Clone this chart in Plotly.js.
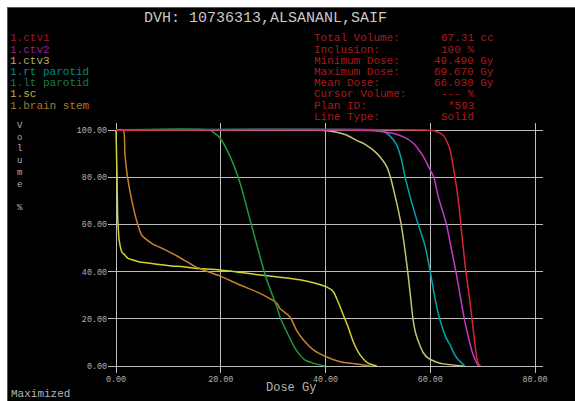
<!DOCTYPE html>
<html>
<head>
<meta charset="utf-8">
<script src="https://cdn.plot.ly/plotly-3.0.1.min.js"></script>
<style>
  html, body { margin:0; padding:0; background:#ffffff; width:575px; height:401px; overflow:hidden; }
  #frame { position:absolute; left:7px; top:7px; width:568px; height:394px; box-sizing:border-box;
           border-left:1px solid #d42020; border-top:1px solid #d42020; background:#000; }
  #chart { position:absolute; left:0; top:0; width:567px; height:393px; }
</style>
</head>
<body>
<div id="frame"><div id="chart"></div></div>
<script>
// ---- data (dose in Gy, volume in %) ----
const structureNames = ["1.ctv1","1.ctv2","1.ctv3","1.rt parotid","1.lt parotid","1.sc","1.brain stem"];

const ctv1Dose = [0,59,61,62.5,63.3,63.8,64.5,65.0,65.5,66.0,66.4,66.8,67.5,68.1,68.5,68.9,69.3,69.67];
const ctv1Vol  = [100,100,99.5,97.8,94.5,91.5,83,76,67.5,56.2,48,40,28.7,17.4,10,3.3,0.6,0];

const ctv2Dose = [0,45,50,53,55,56.8,58,58.7,60,60.7,61.5,62.3,63.1,64.0,64.9,65.7,66.5,67.3,68.0,68.7,69.2];
const ctv2Vol  = [100,100,99.5,98.5,97,94.4,91,88.7,83,80,72,66,60,50,40,30,20,12,6,2,0];

const ctv3Dose = [0,38,41,44,46,47.2,48.5,49.8,50.8,51.7,52.4,53.6,54.4,55.0,55.3,55.7,56.2,56.7,57.2,58.0,58.7,59.6,61,62.5,66.3];
const ctv3Vol  = [100,100,99.5,97.9,95.5,94.4,92.5,90.1,87.5,84.5,80,69,60.5,52,47,40,30,20,14,8.9,5.5,3.3,1.8,0.9,0];

const rtParotidDose = [0,50,51,52.3,53.6,54.5,55.2,56.5,57.7,59.0,60.0,60.9,61.8,63.0,63.8,64.6,65.4,66.6];
const rtParotidVol  = [100,100,99.5,97.5,93.6,87.5,80,69,60,51,40,28.7,20,12,8.9,5,2.5,0];

const ltParotidDose = [0,17.8,18.9,19.9,21.8,23.7,25.6,27.5,28.8,30.7,31.3,32.6,34.2,35.2,36.1,38.3,39.9];
const ltParotidVol  = [100,100,98.6,96.5,88.7,77.4,61.9,46.3,36.4,25.1,20.9,14.5,7.5,4.5,2.5,0.8,0];

const scDose = [0,0.1,0.2,0.3,0.45,0.6,1.1,1.7,2.3,3.3,4.3,6.5,7.4,10.6,12.9,15.1,19.9,27.5,31.3,35.1,37.7,40.1,41.5,42.4,43.4,44.4,45.3,46.6,48.2,49.8];
const scVol  = [100,90,80,65,57.6,53.4,48.4,47,45.6,44.9,44.2,43.5,43.2,42.4,42.1,41.4,40.7,38.6,37.6,36.5,35.3,33.6,31.5,27.2,21.6,16,10.3,4.7,1.1,0];

const brainStemDose = [0,1.4,1.7,2.2,3.0,3.9,4.9,6.8,9.4,11.9,13.5,15.1,16.7,19.9,23.7,27.5,30.7,31.3,33.2,34.5,35.8,37.7,40.1,42.8,46.0,48.5];
const brainStemVol  = [100,100,90,80,70.3,61.9,55.5,52,49.2,46.3,44.2,42.1,40.7,38.1,34.3,30.8,26.6,24.4,20.9,15,11,6.8,3.9,1.8,0.8,0];

const xTicks = [0,20,40,60,80];
const yTicks = [0,20,40,60,80,100];

const infoLabels = ["Total Volume:","Inclusion:","Minimum Dose:","Maximum Dose:","Mean Dose:","Cursor Volume:","Plan ID:","Line Type:"];
const infoValues = ["67.31 cc","100 %","49.490 Gy","69.670 Gy","66.030 Gy","--- %","*593","Solid"];

const titleText = "DVH: 10736313,ALSANANL,SAIF";

// ---- styles ----
const lineColors  = ["#d42630","#c23cc4","#c8c274","#00a4ac","#1e9a3c","#d2d232","#c4822e"];
const labelColors = ["#a81420","#9a1ea8","#b4b06a","#008a8e","#1a7a42","#b8b444","#a87a2a"];
const MONO = "Liberation Mono, DejaVu Sans Mono, monospace";

const series = [
  [ctv1Dose, ctv1Vol], [ctv2Dose, ctv2Vol], [ctv3Dose, ctv3Vol],
  [rtParotidDose, rtParotidVol], [ltParotidDose, ltParotidVol],
  [scDose, scVol], [brainStemDose, brainStemVol]
];
// draw order: ctv1 last so its plateau sits on top
const order = [5,6,4,3,2,1,0];
const traces = order.map(i => ({
  x: series[i][0], y: series[i][1], type: "scatter", mode: "lines",
  name: structureNames[i], line: {color: lineColors[i], width: 1.5, shape: "spline", smoothing: 0.6},
  hoverinfo: "skip"
}));

// page-pixel -> paper helpers (plot area on page: x 108..543, y 123..373)
const PX0 = 108, PX1 = 543, PY0 = 123, PY1 = 373;
const ax = p => (p - PX0) / (PX1 - PX0);
const ay = p => (PY1 - p) / (PY1 - PY0);

const annotations = [];
annotations.push({text: titleText, xref:"paper", yref:"paper", x: ax(265), y: ay(18),
  xanchor:"center", yanchor:"middle", showarrow:false, font:{family:MONO, size:15, color:"#c8c8c8"}});

const row0 = 38.5, rowStep = 11.17;
structureNames.forEach((n, i) => annotations.push({text: n, xref:"paper", yref:"paper",
  x: ax(8), y: ay(row0 + i*rowStep), xanchor:"left", yanchor:"middle", showarrow:false,
  font:{family:MONO, size:11, color:labelColors[i]}}));

const valueEnds = [496,476,496,496,496,476,476,476];
infoLabels.forEach((t, i) => {
  annotations.push({text: t, xref:"paper", yref:"paper", x: ax(312), y: ay(row0 + i*rowStep),
    xanchor:"left", yanchor:"middle", showarrow:false, font:{family:MONO, size:11, color:"#a81c1c"}});
  annotations.push({text: infoValues[i], xref:"paper", yref:"paper", x: ax(valueEnds[i]), y: ay(row0 + i*rowStep),
    xanchor:"right", yanchor:"middle", showarrow:false, font:{family:MONO, size:11, color:"#a81c1c"}});
});

annotations.push({text: "V<br>o<br>l<br>u<br>m<br>e<br> <br>%", xref:"paper", yref:"paper",
  x: ax(20), y: ay(167), xanchor:"center", yanchor:"middle", showarrow:false, align:"center",
  font:{family:MONO, size:9, color:"#b4b4b4"}});
annotations.push({text: "Dose Gy", xref:"paper", yref:"paper", x: ax(291), y: ay(388),
  xanchor:"center", yanchor:"middle", showarrow:false, font:{family:MONO, size:12, color:"#b4b4b4"}});
annotations.push({text: "Maximized", xref:"paper", yref:"paper", x: ax(9), y: ay(393.5),
  xanchor:"left", yanchor:"middle", showarrow:false, font:{family:MONO, size:11, color:"#b4b4b4"}});

const layout = {
  width: 567, height: 393,
  margin: {l: 100, r: 32, t: 115, b: 28, pad: 0},
  paper_bgcolor: "#000000", plot_bgcolor: "#000000",
  showlegend: false,
  xaxis: {range: [(PX0-116)/5.2375, (PX1-116)/5.2375], tickvals: xTicks, ticktext: xTicks.map(v => v.toFixed(2)),
    showgrid: true, gridcolor: "#bcbcbc", gridwidth: 1, zeroline: false, showline: false, ticks: "",
    tickfont: {family: MONO, size: 8.4, color: "#b4b4b4"}, fixedrange: true},
  yaxis: {range: [(366-PY1)/2.36, (366-PY0)/2.36], tickvals: yTicks, ticktext: yTicks.map(v => v.toFixed(2)),
    showgrid: true, gridcolor: "#bcbcbc", gridwidth: 1, zeroline: false, showline: false, ticks: "",
    tickfont: {family: MONO, size: 8.4, color: "#b4b4b4"}, fixedrange: true},
  annotations: annotations
};

Plotly.newPlot("chart", traces, layout, {displayModeBar: false, staticPlot: true});
</script>
</body>
</html>
